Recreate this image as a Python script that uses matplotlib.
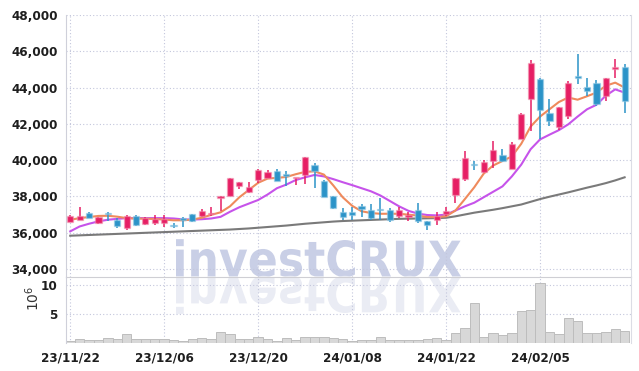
import numpy as np
import matplotlib
matplotlib.use('Agg')
import matplotlib.pyplot as plt
from matplotlib.textpath import TextPath
from matplotlib.patches import PathPatch
from matplotlib.font_manager import FontProperties
from matplotlib.transforms import Affine2D

# daily candles, 23/11/22 .. 24/02/20 (60 trading days)
opens = [36600, 36710, 37100, 36530, 37100, 36670, 36250, 36930, 36470, 36530,
         36540, 36400, 36780, 37000, 36900, 37010, 37900, 38000, 38550, 38220,
         38900, 39020, 39420, 39250, 38990, 39160, 39750, 38870, 38000, 37140,
         37140, 37490, 37260, 37280, 37260, 36890, 36840, 37260, 36620, 36710,
         37030, 38100, 38980, 39780, 39350, 39940, 40300, 39520, 41140, 43390,
         44460, 42620, 41800, 42430, 44640, 44050, 44240, 43530, 45010, 45160]
highs = [36950, 37400, 37150, 36880, 37150, 36800, 36950, 36960, 36850, 36950,
         36990, 36550, 36860, 37050, 37300, 37400, 38000, 39020, 38780, 38800,
         39500, 39480, 39530, 39380, 39030, 40180, 39850, 38900, 38000, 37360,
         37390, 37580, 37580, 37910, 37370, 37390, 37140, 37630, 36620, 37140,
         37390, 39020, 40490, 39940, 40000, 41040, 40620, 41000, 42600, 45510,
         44500, 43350, 42950, 44370, 45840, 44500, 44400, 44550, 45570, 45290]
lows = [36580, 36680, 36780, 36470, 36650, 36250, 36150, 36380, 36400, 36400,
        36330, 36250, 36330, 36580, 36850, 36900, 37170, 38000, 38400, 38200,
        38750, 39000, 38830, 38550, 38600, 38700, 38470, 37950, 37300, 36710,
        36710, 36850, 36710, 36710, 36600, 36800, 36620, 36520, 36160, 36430,
        36890, 37650, 38830, 39480, 39300, 39570, 39900, 39500, 41140, 41600,
        41140, 41870, 41650, 42250, 44180, 43530, 42990, 43260, 44550, 42620]
closes = [36930, 36930, 36800, 36840, 37000, 36340, 36930, 36400, 36800, 36770,
          36770, 36350, 36720, 36640, 37200, 37100, 38000, 39000, 38780, 38500,
          39480, 39350, 38830, 39100, 39030, 40180, 39420, 37950, 37360, 36880,
          36950, 37300, 36800, 37240, 36710, 37260, 36950, 36620, 36400, 36890,
          37210, 39020, 40090, 39720, 39880, 40580, 39970, 40900, 42560, 45330,
          42740, 42150, 42900, 44240, 44530, 43810, 43070, 44550, 45110, 43260]

# moving averages as drawn on the chart
ma_short = [36710, 36800, 36860, 36920, 36930, 36880, 36800, 36770, 36770, 36750,
            36720, 36680, 36680, 36720, 36820, 36980, 37120, 37450, 37950, 38350,
            38750, 38980, 39020, 39070, 39220, 39350, 39380, 39200, 38600, 37950,
            37480, 37180, 37080, 37040, 37040, 37040, 36990, 36940, 36860, 36850,
            36900, 37220, 37850, 38500, 39250, 39700, 39950, 40200, 40900, 41850,
            42400, 42800, 43200, 43450, 43330, 43520, 43720, 44100, 44270, 44000]
ma_mid = [36070, 36340, 36490, 36620, 36710, 36760, 36800, 36800, 36800, 36800,
          36800, 36780, 36730, 36720, 36740, 36780, 36870, 37150, 37400, 37600,
          37800, 38100, 38450, 38650, 38900, 39050, 39180, 39100, 38950, 38780,
          38620, 38450, 38280, 38050, 37750, 37450, 37200, 37050, 36970, 36950,
          36990, 37220, 37450, 37650, 37950, 38250, 38550, 39100, 39750, 40600,
          41140, 41400, 41650, 41970, 42400, 42800, 43050, 43550, 43900, 43720]
ma_long = [35830, 35850, 35870, 35890, 35910, 35930, 35950, 35970, 35990, 36010,
           36030, 36050, 36070, 36090, 36110, 36130, 36150, 36170, 36200, 36230,
           36270, 36310, 36350, 36390, 36440, 36490, 36530, 36570, 36610, 36640,
           36660, 36680, 36700, 36720, 36740, 36760, 36770, 36780, 36790, 36800,
           36820, 36900, 37000, 37100, 37180, 37260, 37350, 37450, 37550, 37700,
           37850, 37980, 38100, 38220, 38350, 38480, 38600, 38730, 38880, 39050]

# volume in millions
volume = [0.5, 0.73, 0.6, 0.6, 0.9, 0.8, 1.64, 0.73, 0.73, 0.73,
          0.73, 0.6, 0.5, 0.8, 0.9, 0.8, 2.0, 1.64, 0.8, 0.8,
          1.2, 0.73, 0.5, 0.9, 0.6, 1.1, 1.1, 1.1, 0.95, 0.73,
          0.5, 0.6, 0.6, 1.1, 0.6, 0.6, 0.6, 0.65, 0.73, 0.9,
          0.6, 1.75, 2.6, 7.0, 1.2, 1.75, 1.5, 1.75, 5.56, 5.7,
          10.3, 2.0, 1.6, 4.3, 3.9, 1.75, 1.75, 1.9, 2.45, 2.2]

tick_idx = [0, 10, 20, 30, 40, 50]
tick_labels = ['23/11/22', '23/12/06', '23/12/20', '24/01/08', '24/01/22', '24/02/05']

up_color = '#e61e64'
down_color = '#2b93c8'
grid_color = '#c3c6dc'

# narrow label font
label_fp = FontProperties(family='DejaVu Sans', stretch='condensed', weight='bold', size=9.6)

W, H = 639, 371
fig = plt.figure(figsize=(W / 100, H / 100), dpi=100)
ax = fig.add_axes([66 / W, 1 - 276.7 / H, 565 / W, 261.7 / H])
axv = fig.add_axes([66 / W, 1 - 343 / H, 565 / W, 66.3 / H], sharex=ax)
for a in (ax, axv):
    a.patch.set_visible(False)

x = np.arange(len(opens))
o = np.array(opens)
c = np.array(closes)
colors = [up_color if cc >= oo else down_color for oo, cc in zip(o, c)]

# wicks + bodies
ax.vlines(x, lows, highs, colors=colors, linewidth=1.1, zorder=3)
body_bottom = np.minimum(o, c)
body_height = np.maximum(np.abs(c - o), 70)
ax.bar(x, body_height, bottom=body_bottom, width=0.66, color=colors,
       edgecolor=[(0.95, 0.6, 0.7, 0.5) if cl == up_color else (0.6, 0.8, 0.9, 0.5) for cl in colors],
       linewidth=1.0, zorder=4)

# moving averages
ax.plot(x, ma_long, color='#7a7a7a', linewidth=1.5, zorder=2)
ax.plot(x, ma_mid, color='#c653ea', linewidth=1.5, zorder=2)
ax.plot(x, ma_short, color='#ef8a5c', linewidth=1.5, zorder=2)

ax.set_ylim(33570, 48000)
ax.set_xlim(-0.45, 59.68)
ax.set_yticks(range(34000, 48001, 2000))
ax.set_yticklabels(['{:,}'.format(v) for v in range(34000, 48001, 2000)])

# volume
axv.bar(x, volume, width=1.0, color='#d8d8d8', edgecolor='#bdbdbd', linewidth=0.7, zorder=2)
axv.set_ylim(0.1, 11.4)
axv.set_yticks([5, 10])
axv.set_ylabel('$10^6$', fontsize=10, color='#333333')
axv.yaxis.set_label_coords(-0.042, 0.68)
axv.set_xticks(tick_idx)
axv.set_xticklabels(tick_labels)

for a in (ax, axv):
    a.grid(True, linestyle=(0, (1, 2)), color=grid_color, linewidth=0.8)
    a.set_axisbelow(True)
    a.tick_params(length=0, pad=6, labelcolor='#1e1e1e')
    for lab in a.get_xticklabels() + a.get_yticklabels():
        lab.set_fontproperties(label_fp)
    a.spines['top'].set_visible(False)
    a.spines['left'].set_color('#cfd0da')
    a.spines['right'].set_color('#dcdde5')
ax.spines['bottom'].set_color('#cfcfd4')
axv.spines['bottom'].set_visible(False)
ax.tick_params(labelbottom=False)

# watermark with reflection
fp = FontProperties(family='DejaVu Sans', stretch='condensed', weight='bold')
tp = TextPath((0, 0), 'investCRUX', size=60, prop=fp)
ext = tp.get_extents()
s = 285 / ext.width
to_fig = Affine2D().scale(1 / W, 1 / H) + fig.transFigure
base = H - 276.5
mark = PathPatch(tp, transform=Affine2D().translate(-ext.x0, 0).scale(s).translate(176, base) + to_fig,
                 facecolor='#c9cfe6', edgecolor='none', zorder=-1)
mirror = PathPatch(tp, transform=Affine2D().translate(-ext.x0, 0).scale(s, -s).translate(176, base) + to_fig,
                   facecolor='#eaecf4', edgecolor='none', zorder=-1)
fig.add_artist(mark)
fig.add_artist(mirror)

fig.savefig('out.png', dpi=100)
